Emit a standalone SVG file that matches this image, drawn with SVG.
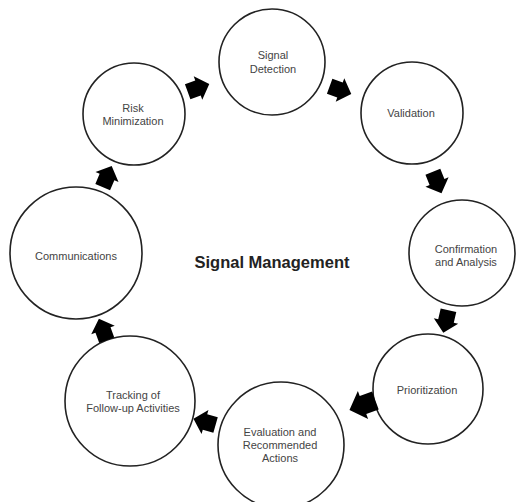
<svg xmlns="http://www.w3.org/2000/svg" xmlns:xlink="http://www.w3.org/1999/xlink" width="517" height="502" viewBox="0 0 517 502">
<style>
.node circle{fill:#fff;stroke:#222;stroke-width:1.6}
.node text{font-family:"Liberation Sans",Arial,sans-serif;font-size:11px;fill:#444;text-anchor:middle}
.title{font-family:"Liberation Sans",Arial,sans-serif;font-size:16.5px;font-weight:bold;fill:#222;text-anchor:middle}
.arrow{fill:#000}
</style>
<defs>
<path id="arr" d="M-11,-8 L0,-8 L0,-12.5 L12,0 L0,12.5 L0,8 L-11,8 Z"/>
</defs>
<rect width="517" height="502" fill="#fff"/>
<g id="n-detection" class="node"><circle cx="272" cy="62" r="53"/><text x="273" y="59">Signal</text><text x="273" y="73">Detection</text></g>
<g id="n-validation" class="node"><circle cx="412" cy="113" r="51"/><text x="411" y="117">Validation</text></g>
<g id="n-confirmation" class="node"><circle cx="462" cy="253" r="53"/><text x="466" y="253">Confirmation</text><text x="466" y="266">and Analysis</text></g>
<g id="n-prioritization" class="node"><circle cx="428" cy="389" r="55"/><text x="427" y="394">Prioritization</text></g>
<g id="n-evaluation" class="node"><circle cx="281" cy="445" r="63"/><text x="280" y="436">Evaluation and</text><text x="280" y="449">Recommended</text><text x="280" y="462">Actions</text></g>
<g id="n-tracking" class="node"><circle cx="130" cy="401" r="65"/><text x="133" y="399">Tracking of</text><text x="133" y="412">Follow-up Activities</text></g>
<g id="n-communications" class="node"><circle cx="76" cy="253" r="66"/><text x="76" y="260">Communications</text></g>
<g id="n-risk" class="node"><circle cx="134" cy="114" r="51"/><text x="133" y="112">Risk</text><text x="133" y="125">Minimization</text></g>
<text class="title" x="272" y="268">Signal Management</text>
<g id="connectors" class="arrow">
<use xlink:href="#arr" transform="translate(198,88) rotate(-20)"/>
<use xlink:href="#arr" transform="translate(340,90) rotate(20)"/>
<use xlink:href="#arr" transform="translate(437,182) rotate(68)"/>
<use xlink:href="#arr" transform="translate(446,321) rotate(103)"/>
<use xlink:href="#arr" transform="translate(363,405) rotate(160) scale(1.2)"/>
<use xlink:href="#arr" transform="translate(205,422) rotate(196)"/>
<use xlink:href="#arr" transform="translate(103,330) rotate(250)"/>
<use xlink:href="#arr" transform="translate(107,177) rotate(-67)"/>
</g>
</svg>
